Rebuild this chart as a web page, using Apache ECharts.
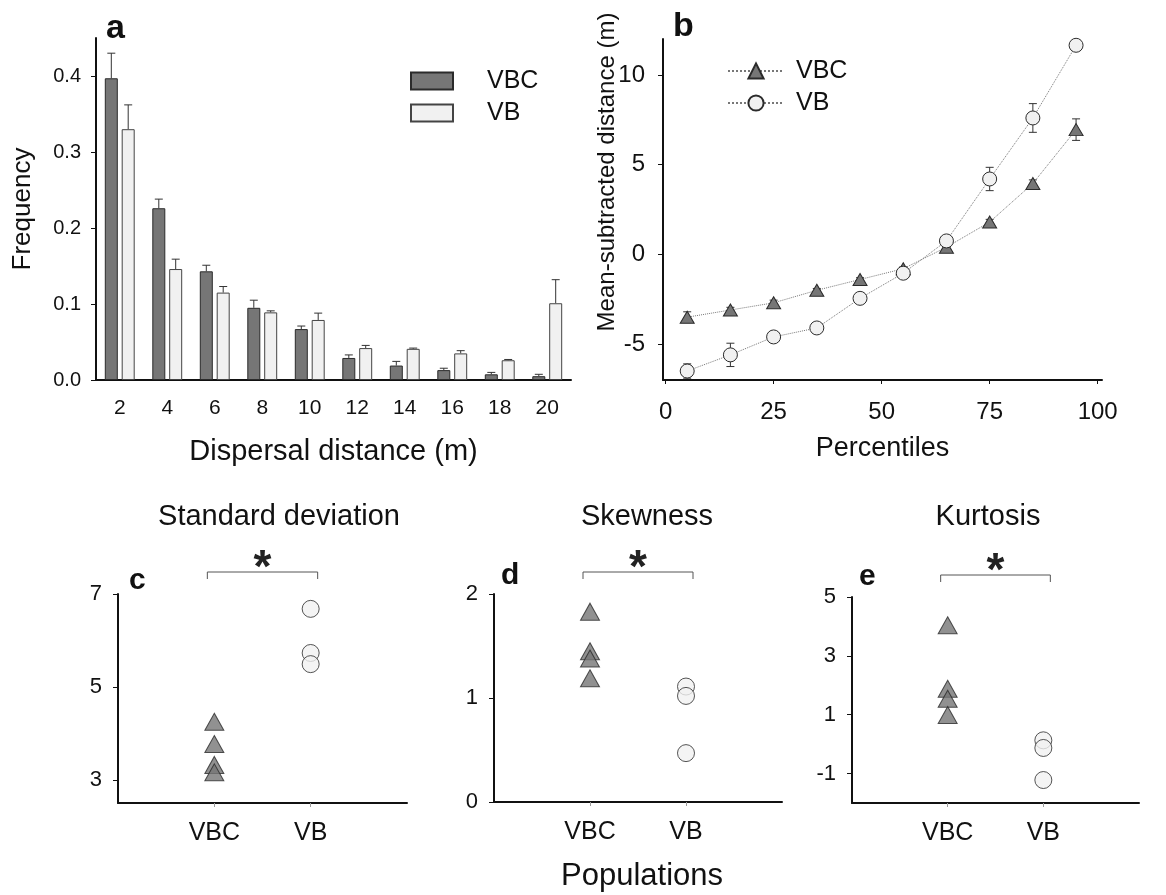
<!DOCTYPE html>
<html><head><meta charset="utf-8">
<script src="https://cdn.jsdelivr.net/npm/echarts@6/dist/echarts.min.js"></script>
<style>html,body{margin:0;padding:0;background:#fff}#c{width:1166px;height:895px}</style>
</head><body><div id="c"></div>
<script>
// ---- Panel a: dispersal distance histogram ----
const distances = ['2','4','6','8','10','12','14','16','18','20'];
const vbcFreq = [0.397, 0.226, 0.143, 0.095, 0.067, 0.029, 0.019, 0.013, 0.0075, 0.005];
const vbcFreqSE = [0.033, 0.012, 0.008, 0.010, 0.004, 0.004, 0.0055, 0.0025, 0.0025, 0.0025];
const vbFreq = [0.330, 0.146, 0.115, 0.089, 0.079, 0.042, 0.041, 0.035, 0.026, 0.101];
const vbFreqSE = [0.032, 0.013, 0.008, 0.002, 0.009, 0.0035, 0.001, 0.0036, 0.001, 0.031];
const freqTicks = [0, 0.1, 0.2, 0.3, 0.4];

// ---- Panel b: percentiles ----
const percentiles = [5, 15, 25, 35, 45, 55, 65, 75, 85, 95];
const vbcMeanSub = [-3.5, -3.1, -2.7, -2.0, -1.4, -0.8, 0.4, 1.8, 3.95, 6.95];
const vbcMeanSubSE = [0.3, 0.15, 0.15, 0.1, 0.1, 0.1, 0.1, 0.15, 0.2, 0.6];
const vbMeanSub = [-6.5, -5.6, -4.6, -4.1, -2.45, -1.05, 0.75, 4.2, 7.6, 11.65];
const vbMeanSubSE = [0.4, 0.65, 0.3, 0.1, 0.1, 0.2, 0.15, 0.65, 0.8, 0.2];
const pctTicks = [0, 25, 50, 75, 100];
const meanSubTicks = [-5, 0, 5, 10];

// ---- Panels c-e: moments per population ----
const popCats = ['', 'VBC', 'VB', ''];
const sdVBC = [4.25, 3.77, 3.32, 3.16];
const sdVB = [6.68, 5.73, 5.49];
const skewVBC = [1.83, 1.45, 1.38, 1.19];
const skewVB = [1.11, 1.02, 0.47];
const kurtVBC = [4.04, 1.88, 1.54, 0.99];
const kurtVB = [0.13, -0.13, -1.22];
const sdTicks = [3, 5, 7];
const skewTicks = [0, 1, 2];
const kurtTicks = [-1, 1, 3, 5];

const FONT = 'Liberation Sans, Arial, sans-serif';
const DARK = '#767676', LIGHT = '#f1f1f1', EDGE = '#2b2b2b';

const chart = echarts.init(document.getElementById('c'), null, {renderer: 'canvas'});

function errA(offset) {
  return function (params, api) {
    const i = api.value(0), m = api.value(1), s = api.value(2);
    const p0 = api.coord([i, m]), p1 = api.coord([i, m + s]);
    const cx = p0[0] + offset;
    return {type: 'group', children: [
      {type: 'line', shape: {x1: cx, y1: p0[1], x2: cx, y2: p1[1]}, style: {stroke: '#333', lineWidth: 1}},
      {type: 'line', shape: {x1: cx - 4, y1: p1[1], x2: cx + 4, y2: p1[1]}, style: {stroke: '#333', lineWidth: 1}}
    ]};
  };
}
function errB(params, api) {
  const x = api.value(0), m = api.value(1), s = api.value(2);
  const lo = api.coord([x, m - s]), hi = api.coord([x, m + s]);
  const cx = lo[0];
  return {type: 'group', children: [
    {type: 'line', shape: {x1: cx, y1: lo[1], x2: cx, y2: hi[1]}, style: {stroke: '#333', lineWidth: 1}},
    {type: 'line', shape: {x1: cx - 4, y1: hi[1], x2: cx + 4, y2: hi[1]}, style: {stroke: '#333', lineWidth: 1}},
    {type: 'line', shape: {x1: cx - 4, y1: lo[1], x2: cx + 4, y2: lo[1]}, style: {stroke: '#333', lineWidth: 1}}
  ]};
}
function bracket(params, api) {
  const a = api.coord([api.value(0), api.value(2)]);
  const b = api.coord([api.value(1), api.value(2)]);
  const x1 = a[0] - 7, x2 = b[0] + 7, y = a[1] - 22;
  return {type: 'group', children: [
    {type: 'polyline', shape: {points: [[x1, y + 7], [x1, y], [x2, y], [x2, y + 7]]}, style: {stroke: '#555', lineWidth: 1, fill: null}},
    {type: 'text', style: {text: '*', x: (x1 + x2) / 2, y: y - 3, align: 'center', verticalAlign: 'middle', font: 'bold 46px ' + FONT, fill: '#222'}}
  ]};
}

const axisLineStyle = {onZero: false, lineStyle: {color: '#111', width: 2}};

function popX(gi) {
  return {gridIndex: gi, type: 'category', data: popCats, boundaryGap: false,
    axisLine: axisLineStyle,
    axisTick: {show: true, interval: (i) => i === 1 || i === 2, length: 4, lineStyle: {color: '#999'}},
    axisLabel: {interval: (i) => i === 1 || i === 2, fontSize: 25, fontFamily: FONT, color: '#111', margin: 18}};
}
function popY(gi, min, max, ticks) {
  return {gridIndex: gi, type: 'value', min: min, max: max, splitLine: {show: false},
    axisLine: {show: true, onZero: false, lineStyle: {color: '#111', width: 2}},
    axisTick: {show: true, length: 5, customValues: ticks, lineStyle: {color: '#111'}},
    axisLabel: {customValues: ticks, fontSize: 22, fontFamily: FONT, color: '#111', margin: 16}};
}
const triStyle = {color: DARK, borderColor: EDGE, borderWidth: 1};
const cirStyle = {color: LIGHT, borderColor: EDGE, borderWidth: 1};
function popSeries(gi, name, cat, vals, sym) {
  return {type: 'scatter', name: name, xAxisIndex: gi, yAxisIndex: gi,
    symbol: sym, symbolSize: sym === 'triangle' ? [19, 17] : 17,
    itemStyle: sym === 'triangle' ? triStyle : cirStyle,
    data: vals.map(v => [cat, v]), silent: true};
}
const titleFont = '29px ' + FONT;

const option = {
  animation: false,
  textStyle: {fontFamily: FONT},
  grid: [
    {left: 96, top: 38, width: 475, height: 342},
    {left: 663, top: 39, width: 439, height: 341},
    {left: 118, top: 594, width: 289, height: 209},
    {left: 494, top: 594, width: 288, height: 208},
    {left: 852, top: 597, width: 287, height: 206}
  ],
  xAxis: [
    {gridIndex: 0, type: 'category', data: distances,
      axisLine: axisLineStyle,
      axisTick: {alignWithLabel: true, length: 5, lineStyle: {color: '#111'}},
      axisLabel: {fontSize: 21, color: '#111', margin: 18, fontFamily: FONT},
      name: 'Dispersal distance (m)', nameLocation: 'middle', nameGap: 57,
      nameTextStyle: {fontSize: 29, color: '#111', fontFamily: FONT}},
    {gridIndex: 1, type: 'value', min: -0.6, max: 101, splitLine: {show: false},
      axisLine: axisLineStyle,
      axisTick: {show: true, length: 4, customValues: pctTicks, lineStyle: {color: '#111'}},
      axisLabel: {customValues: pctTicks, fontSize: 24, color: '#111', margin: 20, fontFamily: FONT},
      name: 'Percentiles', nameLocation: 'middle', nameGap: 55,
      nameTextStyle: {fontSize: 27, color: '#111', fontFamily: FONT}},
    popX(2), popX(3), popX(4)
  ],
  yAxis: [
    {gridIndex: 0, type: 'value', min: 0, max: 0.45, splitLine: {show: false},
      axisLine: {show: true, onZero: false, lineStyle: {color: '#111', width: 2}},
      axisTick: {show: true, length: 5, customValues: freqTicks, lineStyle: {color: '#111'}},
      axisLabel: {customValues: freqTicks, formatter: v => v.toFixed(1), fontSize: 20, color: '#111', margin: 15, fontFamily: FONT},
      name: 'Frequency', nameLocation: 'middle', nameGap: 60, nameRotate: 90,
      nameTextStyle: {fontSize: 26, color: '#111', fontFamily: FONT}},
    {gridIndex: 1, type: 'value', min: -7, max: 12, splitLine: {show: false},
      axisLine: {show: true, onZero: false, lineStyle: {color: '#111', width: 2}},
      axisTick: {show: true, length: 5, customValues: meanSubTicks, lineStyle: {color: '#111'}},
      axisLabel: {customValues: meanSubTicks, fontSize: 24, color: '#111', margin: 18, fontFamily: FONT}},
    popY(2, 2.5, 7, sdTicks), popY(3, 0, 2, skewTicks), popY(4, -2, 5, kurtTicks)
  ],
  legend: [
    {data: ['VBC'], left: 410, top: 68, padding: 0, icon: 'rect', itemWidth: 42, itemHeight: 17, selectedMode: false,
      textStyle: {fontSize: 25, lineHeight: 26, color: '#111', padding: [0, 0, 0, 29]}},
    {data: ['VB'], left: 410, top: 100, padding: 0, icon: 'rect', itemWidth: 42, itemHeight: 17, selectedMode: false,
      textStyle: {fontSize: 25, lineHeight: 26, color: '#111', padding: [0, 0, 0, 29]}},
    {data: ['VBC percentiles'], left: 727, top: 58, padding: 0, itemWidth: 56, itemHeight: 19, selectedMode: false,
      formatter: n => n.split(' ')[0],
      textStyle: {fontSize: 25, lineHeight: 26, color: '#111', padding: [0, 0, 0, 7]}},
    {data: ['VB percentiles'], left: 727, top: 90, padding: 0, itemWidth: 56, itemHeight: 19, selectedMode: false,
      formatter: n => n.split(' ')[0],
      textStyle: {fontSize: 25, lineHeight: 26, color: '#111', padding: [0, 0, 0, 7]}}
  ],
  series: [
    {type: 'bar', name: 'VBC', xAxisIndex: 0, yAxisIndex: 0, data: vbcFreq, barWidth: 13, barGap: '30%',
      itemStyle: {color: DARK, borderColor: EDGE, borderWidth: 1}, silent: true},
    {type: 'bar', name: 'VB', xAxisIndex: 0, yAxisIndex: 0, data: vbFreq, barWidth: 13, barGap: '30%',
      itemStyle: {color: LIGHT, borderColor: '#444', borderWidth: 1}, silent: true},
    {type: 'custom', name: 'VBC err', xAxisIndex: 0, yAxisIndex: 0, renderItem: errA(-8.45),
      data: distances.map((d, i) => [i, vbcFreq[i], vbcFreqSE[i]]), encode: {x: 0, y: 1}, silent: true},
    {type: 'custom', name: 'VB err', xAxisIndex: 0, yAxisIndex: 0, renderItem: errA(8.45),
      data: distances.map((d, i) => [i, vbFreq[i], vbFreqSE[i]]), encode: {x: 0, y: 1}, silent: true},
    {type: 'custom', name: 'VBC pct err', xAxisIndex: 1, yAxisIndex: 1, renderItem: errB, z: 1,
      data: percentiles.map((p, i) => [p, vbcMeanSub[i], vbcMeanSubSE[i]]), encode: {x: 0, y: 1}, silent: true},
    {type: 'custom', name: 'VB pct err', xAxisIndex: 1, yAxisIndex: 1, renderItem: errB, z: 1,
      data: percentiles.map((p, i) => [p, vbMeanSub[i], vbMeanSubSE[i]]), encode: {x: 0, y: 1}, silent: true},
    {type: 'line', name: 'VBC percentiles', xAxisIndex: 1, yAxisIndex: 1, z: 3,
      data: percentiles.map((p, i) => [p, vbcMeanSub[i]]), symbol: 'triangle', symbolSize: [14, 12],
      itemStyle: triStyle, lineStyle: {color: '#777', width: 1, type: 'dotted'}, silent: true},
    {type: 'line', name: 'VB percentiles', xAxisIndex: 1, yAxisIndex: 1, z: 3,
      data: percentiles.map((p, i) => [p, vbMeanSub[i]]), symbol: 'circle', symbolSize: 14,
      itemStyle: cirStyle, lineStyle: {color: '#777', width: 1, type: 'dotted'}, silent: true},
    popSeries(2, 'VBC sd', 'VBC', sdVBC, 'triangle'),
    popSeries(2, 'VB sd', 'VB', sdVB, 'circle'),
    popSeries(3, 'VBC skew', 'VBC', skewVBC, 'triangle'),
    popSeries(3, 'VB skew', 'VB', skewVB, 'circle'),
    popSeries(4, 'VBC kurt', 'VBC', kurtVBC, 'triangle'),
    popSeries(4, 'VB kurt', 'VB', kurtVB, 'circle'),
    {type: 'custom', name: 'sig c', xAxisIndex: 2, yAxisIndex: 2, renderItem: bracket, clip: false,
      data: [[1, 2, 7]], encode: {x: [0, 1], y: 2}, silent: true},
    {type: 'custom', name: 'sig d', xAxisIndex: 3, yAxisIndex: 3, renderItem: bracket, clip: false,
      data: [[1, 2, 2]], encode: {x: [0, 1], y: 2}, silent: true},
    {type: 'custom', name: 'sig e', xAxisIndex: 4, yAxisIndex: 4, renderItem: bracket, clip: false,
      data: [[1, 2, 5]], encode: {x: [0, 1], y: 2}, silent: true}
  ],
  graphic: [
    {type: 'text', left: 106, top: 12, style: {text: 'a', font: 'bold 34px ' + FONT, fill: '#111'}},
    {type: 'text', left: 673, top: 10, style: {text: 'b', font: 'bold 34px ' + FONT, fill: '#111'}},
    {type: 'text', left: 129, top: 566, style: {text: 'c', font: 'bold 30px ' + FONT, fill: '#111'}},
    {type: 'text', left: 501, top: 561, style: {text: 'd', font: 'bold 30px ' + FONT, fill: '#111'}},
    {type: 'text', left: 859, top: 562, style: {text: 'e', font: 'bold 30px ' + FONT, fill: '#111'}},
    {type: 'text', x: 607, y: 172, rotation: Math.PI / 2,
      style: {text: 'Mean-subtracted distance (m)', font: '24px ' + FONT, fill: '#111', align: 'center', verticalAlign: 'middle'}},
    {type: 'text', x: 279, y: 517, style: {text: 'Standard deviation', font: titleFont, fill: '#111', align: 'center', verticalAlign: 'middle'}},
    {type: 'text', x: 647, y: 517, style: {text: 'Skewness', font: titleFont, fill: '#111', align: 'center', verticalAlign: 'middle'}},
    {type: 'text', x: 988, y: 517, style: {text: 'Kurtosis', font: titleFont, fill: '#111', align: 'center', verticalAlign: 'middle'}},
    {type: 'text', x: 642, y: 876, style: {text: 'Populations', font: '31px ' + FONT, fill: '#111', align: 'center', verticalAlign: 'middle'}}
  ]
};
chart.setOption(option);
</script>
</body></html>
